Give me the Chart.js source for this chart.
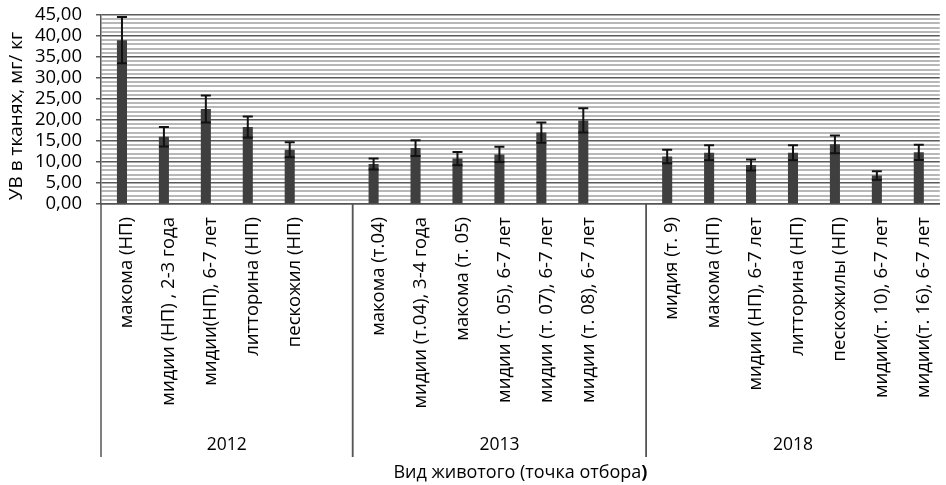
<!DOCTYPE html>
<html>
<head>
<meta charset="utf-8">
<script src="https://cdn.jsdelivr.net/npm/chart.js@4/dist/chart.umd.min.js"></script>
<style>
  html, body { margin: 0; padding: 0; background: #fff; }
  #wrap { width: 946px; height: 485px; }
</style>
</head>
<body>
<div id="wrap"><canvas id="c" width="946" height="485"></canvas></div>
<script>
// Sampled species (sampling point); empty entries are spacers between years
const categories = [
  'макома (НП)', 'мидии (НП) , 2-3 года', 'мидии(НП), 6-7 лет', 'литторина (НП)', 'пескожил (НП)', '',
  'макома (т.04)', 'мидии (т.04), 3-4 года', 'макома (т. 05)', 'мидии (т. 05), 6-7 лет', 'мидии (т. 07), 6-7 лет', 'мидии (т. 08), 6-7 лет', '',
  'мидия (т. 9)', 'макома (НП)', 'мидии (НП), 6-7 лет', 'литторина (НП)', 'пескожилы (НП)', 'мидии(т. 10), 6-7 лет', 'мидии(т. 16), 6-7 лет'
];
// Sampling year of each category
const years = [
  '2012', '2012', '2012', '2012', '2012', '2012',
  '2013', '2013', '2013', '2013', '2013', '2013', '2013',
  '2018', '2018', '2018', '2018', '2018', '2018', '2018'
];
// Hydrocarbon content in tissues, mg/kg
const values = [
  39.0, 16.0, 22.6, 18.3, 12.9, null,
  9.5, 13.3, 10.8, 11.8, 17.0, 19.9, null,
  11.3, 12.2, 9.3, 12.2, 14.2, 6.8, 12.3
];
// Error (±)
const errors = [
  5.5, 2.3, 3.2, 2.5, 1.8, null,
  1.3, 1.9, 1.6, 1.8, 2.4, 2.9, null,
  1.6, 1.8, 1.3, 1.8, 2.1, 1.0, 1.8
];
const yMin = 0, yMax = 45, yMajorStep = 5, yMinorStep = 1;
const yTitle = 'УВ в тканях, мг/ кг';
const xTitle = 'Вид животого (точка отбора';
const xTitleClose = ')';

const FONT = '"Open Sans", sans-serif';
const TEXT = '#000';
const AXIS = '#555';

const isMajor = v => Math.abs(v / yMajorStep - Math.round(v / yMajorStep)) < 1e-6;

const errorBars = {
  id: 'errorBars',
  afterDatasetsDraw(chart) {
    const { ctx, scales: { y } } = chart;
    const meta = chart.getDatasetMeta(0);
    ctx.save();
    ctx.strokeStyle = '#111';
    ctx.lineWidth = 2;
    meta.data.forEach((bar, i) => {
      const v = values[i], e = errors[i];
      if (v == null || e == null) return;
      const x = bar.x;
      const yt = y.getPixelForValue(v + e);
      const yb = y.getPixelForValue(v - e);
      const cap = 5;
      ctx.beginPath();
      ctx.moveTo(x, yt); ctx.lineTo(x, yb);
      ctx.moveTo(x - cap, yt); ctx.lineTo(x + cap, yt);
      ctx.moveTo(x - cap, yb); ctx.lineTo(x + cap, yb);
      ctx.stroke();
    });
    ctx.restore();
  }
};

const groupAxis = {
  id: 'groupAxis',
  afterDraw(chart) {
    const { ctx, chartArea, scales: { x } } = chart;
    const bottom = chartArea.bottom;
    const sepEnd = 457;
    // boundaries between year groups
    const bounds = [];
    const edge = i => {
      if (i === 0) return chartArea.left;
      if (i === categories.length) return chartArea.right;
      return (x.getPixelForValue(i - 1) + x.getPixelForValue(i)) / 2;
    };
    let start = 0;
    for (let i = 1; i <= categories.length; i++) {
      if (i === categories.length || years[i] !== years[start]) {
        bounds.push({ year: years[start], from: edge(start), to: edge(i) });
        start = i;
      }
    }
    ctx.save();
    ctx.strokeStyle = AXIS;
    ctx.lineWidth = 1.5;
    bounds.forEach(b => {
      [b.from, b.to].forEach(px => {
        if (px >= chartArea.right - 1) return;
        ctx.beginPath();
        ctx.moveTo(px, bottom);
        ctx.lineTo(px, sepEnd);
        ctx.stroke();
      });
    });
    ctx.fillStyle = TEXT;
    ctx.font = '17.5px ' + FONT;
    ctx.textAlign = 'center';
    ctx.textBaseline = 'middle';
    bounds.forEach(b => ctx.fillText(b.year, (b.from + b.to) / 2, 445));

    // x-axis title
    ctx.font = '18px ' + FONT;
    const w1 = ctx.measureText(xTitle).width;
    ctx.font = 'bold 18px ' + FONT;
    const w2 = ctx.measureText(xTitleClose).width;
    const cx = (chartArea.left + chartArea.right) / 2;
    const x0 = cx - (w1 + w2) / 2;
    ctx.textAlign = 'left';
    ctx.font = '18px ' + FONT;
    ctx.fillText(xTitle, x0, 473);
    ctx.font = 'bold 18px ' + FONT;
    ctx.fillText(xTitleClose, x0 + w1, 473);

    // y-axis title
    ctx.translate(17, 116);
    ctx.rotate(-Math.PI / 2);
    ctx.font = '19px ' + FONT;
    ctx.textAlign = 'center';
    ctx.fillText(yTitle, 0, 0);
    ctx.restore();
  }
};

new Chart(document.getElementById('c'), {
  type: 'bar',
  data: {
    labels: categories,
    datasets: [{
      data: values,
      backgroundColor: '#3f3f3f',
      borderWidth: 0,
      barPercentage: 0.24,
      categoryPercentage: 1.0
    }]
  },
  options: {
    responsive: false,
    animation: false,
    devicePixelRatio: 1,
    layout: { padding: 0 },
    plugins: { legend: { display: false }, tooltip: { enabled: false } },
    scales: {
      x: {
        type: 'category',
        offset: true,
        grid: { display: false },
        border: { display: true, color: AXIS, width: 1.5 },
        ticks: {
          autoSkip: false,
          minRotation: 90,
          maxRotation: 90,
          padding: 5,
          labelOffset: 5,
          color: TEXT,
          font: { family: FONT, size: 18.5 }
        },
        afterFit(s) { s.height = 281; }
      },
      y: {
        min: yMin,
        max: yMax,
        grid: {
          color: c => isMajor(c.tick.value) ? '#5a5a5a' : '#b8b8b8',
          lineWidth: c => isMajor(c.tick.value) ? 1.5 : 2,
          tickColor: c => isMajor(c.tick.value) ? '#5a5a5a' : 'rgba(0,0,0,0)',
          tickLength: 5,
          drawTicks: true
        },
        border: { display: true, color: AXIS, width: 1.5 },
        ticks: {
          stepSize: yMinorStep,
          autoSkip: false,
          padding: 14,
          color: TEXT,
          font: { family: FONT, size: 18.5, lineHeight: 0.1 },
          callback: v => isMajor(v) ? v.toFixed(2).replace('.', ',') : ''
        },
        afterFit(s) { s.width = 101; }
      }
    }
  },
  plugins: [errorBars, groupAxis]
});
</script>
</body>
</html>
